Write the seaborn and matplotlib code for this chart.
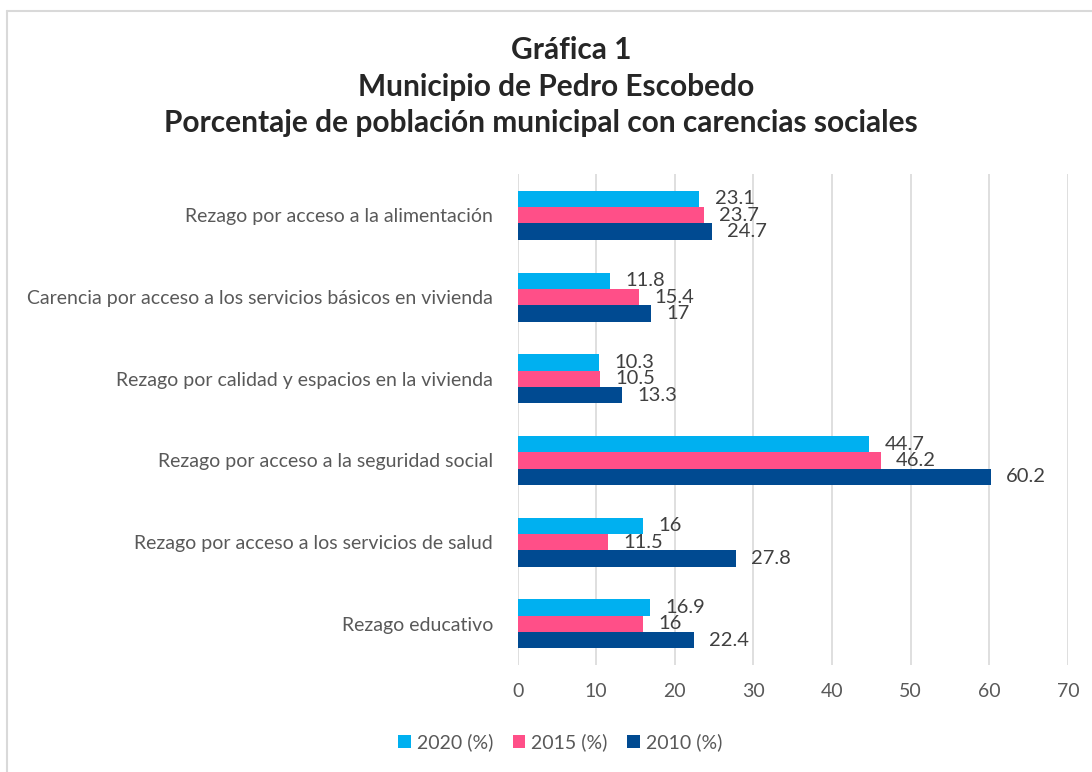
import matplotlib
matplotlib.use("Agg")
import matplotlib.pyplot as plt
import pandas as pd
import seaborn as sns

sns.set_theme(style="white")
plt.rcParams['font.family'] = ['Lato', 'DejaVu Sans']

# datos de la grafica
categorias = [
    "Rezago por acceso a la alimentación ",
    "Carencia por acceso a los servicios básicos en vivienda ",
    "Rezago por calidad y espacios en la vivienda ",
    "Rezago por acceso a la seguridad social ",
    "Rezago por acceso a los servicios de salud ",
    "Rezago educativo ",
]
series = ["2020 (%)", "2015 (%)", "2010 (%)"]
v2020 = [23.1, 11.8, 10.3, 44.7, 16, 16.9]
v2015 = [23.7, 15.4, 10.5, 46.2, 11.5, 16]
v2010 = [24.7, 17, 13.3, 60.2, 27.8, 22.4]
colores = ["#00B0F0", "#FF4F88", "#004A91"]

df = pd.DataFrame({
    "categoria": categorias * 3,
    "serie": [s for s in series for _ in categorias],
    "valor": v2020 + v2015 + v2010,
})

fig = plt.figure(figsize=(10.92, 7.72), dpi=100)
ax = fig.add_axes([0.474, 0.139, 0.504, 0.635])

sns.barplot(data=df, y="categoria", x="valor", hue="serie", orient="h",
            palette=colores, saturation=1, width=0.6, ax=ax, edgecolor="none", legend=True)

for cont in ax.containers:
    labs = ["%g" % v for v in cont.datavalues]
    ax.bar_label(cont, labels=labs, padding=11, fontsize=14.5, color="#404040")

ax.set_xlim(0, 70)
ax.set_xticks(range(0, 71, 10))
ax.xaxis.grid(True, color="#D9D9D9", linewidth=1.2)
ax.set_axisbelow(True)
for s in ax.spines.values():
    s.set_visible(False)
ax.set_xlabel("")
ax.set_ylabel("")
ax.tick_params(axis="x", labelsize=14, labelcolor="#595959", pad=13, length=0)
ax.tick_params(axis="y", labelsize=14, labelcolor="#595959", pad=14, length=0)

h, l = ax.get_legend_handles_labels()
ax.get_legend().remove()
fig.legend(h, l, loc="center", bbox_to_anchor=(0.513, 0.039), ncol=3, frameon=False,
           fontsize=14, labelcolor="#595959", handlelength=0.65, handleheight=0.65,
           handletextpad=0.3, columnspacing=1.0)

fig.text(0.523, 0.935, "Gráfica 1", ha="center", va="center", fontsize=21.5, fontweight="bold")
fig.text(0.509, 0.887, "Municipio de Pedro Escobedo", ha="center", va="center", fontsize=21.5, fontweight="bold")
fig.text(0.495, 0.841, "Porcentaje de población municipal con carencias sociales", ha="center", va="center",
         fontsize=21.5, fontweight="bold")

# borde del area del grafico
fig.add_artist(plt.Line2D([0.0065, 0.0065], [0, 0.986], transform=fig.transFigure, color="#D9D9D9", lw=1.5))
fig.add_artist(plt.Line2D([0.0065, 1], [0.986, 0.986], transform=fig.transFigure, color="#D9D9D9", lw=1.5))

fig.savefig("out.png", dpi=100)
